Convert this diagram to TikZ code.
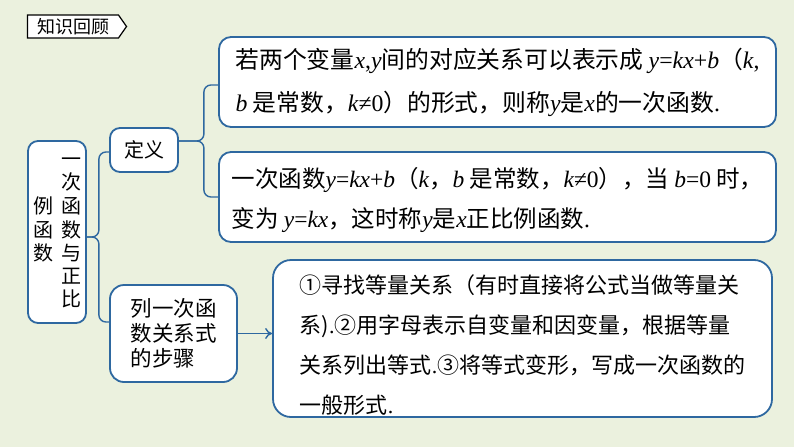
\documentclass[tikz,border=0pt]{standalone}
\usepackage{fontspec}
\setmainfont{Noto Sans CJK SC}
\newfontfamily\latinf{Liberation Serif}
\usepackage{tikz}
\usetikzlibrary{positioning, shapes.symbols, arrows, arrows.meta}
\definecolor{bgc}{RGB}{235,241,222}
\definecolor{lineblue}{RGB}{46,104,160}
\tikzstyle{box} = [draw=lineblue, line width=1.8pt, fill=white, rounded corners=12pt, inner sep=0pt]
\tikzstyle{brace} = [draw=lineblue, line width=1.4pt, rounded corners=7pt]
\tikzstyle{arrow} = [lineblue, line width=1.4pt, -{To[length=7pt, width=11pt]}]
\newcommand{\iv}[1]{{\latinf\itshape #1}}
\newcommand{\latn}[1]{{\latinf #1}}
\newcommand{\ykxb}{\iv{y}\latn{=}\iv{kx}\latn{+}\iv{b}}

\begin{document}
\begin{tikzpicture}[x=1pt, y=-1pt]
  \fill[bgc] (0,0) rectangle (794,447);
  \useasboundingbox (0,0) rectangle (794,447);

  % Title tag
  \node[signal, signal to=east, signal pointer angle=110, draw=black, line width=1.2pt, fill=white,
        minimum width=99pt, minimum height=23pt, inner sep=0pt, font=\fontsize{18}{18}\selectfont] (tag) at (73,26.5) {知识回顾};

  % Root and its two branches
  \node[box, rounded corners=10pt, minimum width=58pt, minimum height=182pt, font=\fontsize{20}{22.7}\selectfont] (root) at (57,232)
    {\begin{tabular}{@{}c@{\hspace{8pt}}c@{}} & 一\\ & 次\\ 例 & 函\\ 函 & 数\\ 数 & 与\\ & 正\\ & 比\end{tabular}};
  \node[box, rounded corners=10pt, minimum width=68pt, minimum height=44pt, font=\fontsize{20}{20}\selectfont] (def) at (144,150) {定义};
  \node[box, rounded corners=14pt, minimum width=127pt, minimum height=97pt, align=left, font=\fontsize{21.5}{25}\selectfont] (lie) at (173.5,333.5)
    {列一次函\\数关系式\\的步骤};

  % Definitions
  \node[box, minimum width=557pt, minimum height=90pt, align=left, font=\fontsize{23.8}{43}\selectfont] (d1) at (497.5,82)
    {若两个变量\iv{x}\latn{,}\iv{y}间的对应关系可以表示成 \ykxb（\iv{k}\latn{,}\\
     \iv{b} 是常数，\iv{k}\latn{≠0}）的形式，则称\iv{y}是\iv{x}的一次函数\latn{.}};
  \node[box, minimum width=557pt, minimum height=90pt, align=left, font=\fontsize{23.5}{40}\selectfont] (d2) at (497.5,197)
    {\rule{0pt}{26pt}一次函数\ykxb（\iv{k}，\iv{b} 是常数，\iv{k}\latn{≠0}），当 \iv{b}\latn{=0} 时，\\
     变为 \iv{y}\latn{=}\iv{kx}，这时称\iv{y}是\iv{x}正比例函数\latn{.}};

  % Steps
  \node[box, rounded corners=18pt, minimum width=499pt, minimum height=157pt, align=left, font=\fontsize{22}{40}\selectfont] (steps) at (522.5,338.5)
    {\rule{0pt}{31pt}①寻找等量关系（有时直接将公式当做等量关\\
     系)\latn{.}②用字母表示自变量和因变量，根据等量\\
     关系列出等式\latn{.}③将等式变形，写成一次函数的\\
     一般形式\latn{.}};

  % Braces
  \coordinate (j1) at ([xshift=12pt,yshift=-5pt]root.east);
  \draw[brace] ([yshift=-2pt]def.west) -| (j1) -- ([yshift=-5pt]root.east);
  \draw[brace] ([yshift=11.5pt]lie.west) -| (j1) -- ([yshift=-5pt]root.east);
  \coordinate (j2) at ([xshift=25pt,yshift=9pt]def.east);
  \draw[brace] ([yshift=-3pt]d1.west) -| (j2) -- ([yshift=9pt]def.east);
  \draw[brace] (d2.west) -| (j2) -- ([yshift=9pt]def.east);

  % Arrow to the steps
  \draw[arrow] (lie.east) -- (lie.east -| steps.west);
\end{tikzpicture}
\end{document}
